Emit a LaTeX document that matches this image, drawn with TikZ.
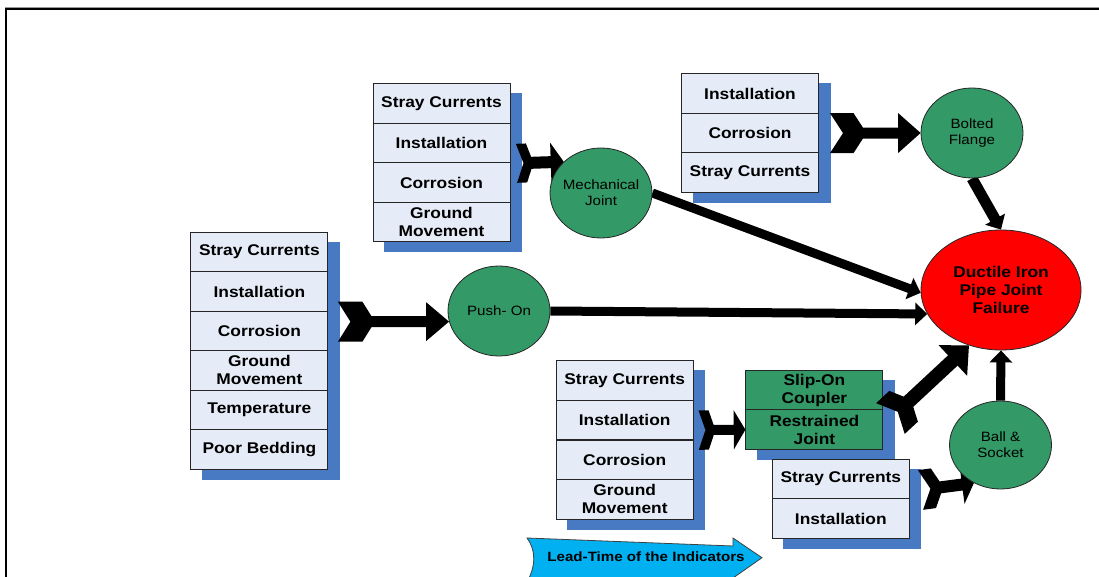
\documentclass[tikz,border=0pt]{standalone}
\usepackage{fontspec}
\setmainfont{Liberation Sans}[FakeStretch=1.12]
\usetikzlibrary{shapes.geometric,arrows.meta,calc}

\definecolor{cellfill}{RGB}{230,236,247}
\definecolor{shadeblue}{RGB}{72,122,196}
\definecolor{jointgreen}{RGB}{51,153,102}
\definecolor{leadcyan}{RGB}{0,176,240}

\pgfdeclarelayer{shadows}
\pgfdeclarelayer{arrows}
\pgfdeclarelayer{top}
\pgfsetlayers{shadows,main,arrows,top}

% Block arrow with a notched chevron tail, from #1 (tail) to #2 (tip).
% #3 tail half-height, #4 tail flat width, #5 notch depth,
% #6 shaft half-thickness, #7 head half-height, #8 head length
\newcommand\chevronarrow[8]{%
  \path let \p1=(#1), \p2=(#2) in
    \pgfextra{%
      \pgfmathsetmacro\chtmpa{atan2((\y2)-(\y1),(\x2)-(\x1))}\xdef\chang{\chtmpa}%
      \pgfmathsetmacro\chtmpb{veclen((\x2)-(\x1),(\y2)-(\y1))}\xdef\chlen{\chtmpb}};
  \fill[shift={(#1)}, rotate=\chang]
    (0,-#3) -- (#4,-#3) -- ({#4+#5},0) -- (#4,#3) -- (0,#3) -- (#5,0) -- cycle
    (#4,-#6) -- ({\chlen-#8},-#6) -- ({\chlen-#8},#6) -- (#4,#6) -- cycle
    ({\chlen-#8},-#7) -- (\chlen,0) -- ({\chlen-#8},#7) -- cycle;
}

% blue drop shadow behind a stack, given its first and last cell
\newcommand\stackshadow[2]{%
  \fill[shadow] ($(#1.north west)+(11.5,10)$) rectangle ($(#2.south east)+(11.5,10)$);
}

\tikzset{
  cell/.style={draw=black!85, line width=1pt, fill=cellfill, inner sep=0pt,
    align=center, minimum height=39.4pt,
    font=\fontsize{15.5}{18}\selectfont\bfseries},
  greencell/.style={cell, fill=jointgreen},
  shadow/.style={fill=shadeblue},
  joint/.style={ellipse, draw=black!85, line width=0.8pt, fill=jointgreen,
    inner sep=-10pt, minimum width=102pt, minimum height=90pt, align=center,
    font=\fontsize{13.5}{16}\selectfont},
  failure/.style={ellipse, draw=black!85, line width=0.8pt, fill=red,
    inner sep=0pt, minimum width=160pt, minimum height=120pt, align=center,
    font=\fontsize{15.5}{18}\selectfont\bfseries},
  feed/.style={line width=9pt, -{Triangle[length=12pt,width=22pt]}},
}

\begin{document}
\begin{tikzpicture}[x=1pt,y=-1pt]
\useasboundingbox (0,0) rectangle (1099,577);

% indicator stacks
\begin{scope}[every node/.style={cell, minimum width=137pt}]
  \node (b1a) at (441.5,103.7) {Stray Currents};
  \node (b1b) at (441.5,143.1) {Installation};
  \node (b1c) at (441.5,182.5) {Corrosion};
  \node (b1d) at (441.5,221.9) {Ground\\Movement};

  \node (b2a) at (750,93.7) {Installation};
  \node (b2b) at (750,133.1) {Corrosion};
  \node (b2c) at (750,172.5) {Stray Currents};

  \node (b3a) at (259.4,252.0) {Stray Currents};
  \node (b3b) at (259.4,291.5) {Installation};
  \node (b3c) at (259.4,330.9) {Corrosion};
  \node (b3d) at (259.4,370.4) {Ground\\Movement};
  \node (b3e) at (259.4,409.8) {Temperature};
  \node (b3f) at (259.4,449.3) {Poor Bedding};

  \node (b4a) at (624.7,380.5) {Stray Currents};
  \node (b4b) at (624.7,420.1) {Installation};
  \node (b4c) at (624.7,459.7) {Corrosion};
  \node (b4d) at (624.7,499.3) {Ground\\Movement};

  \node[greencell] (g1) at (814.4,390.35) {Slip-On\\Coupler};
  \node[greencell] (g2) at (814.4,429.65) {Restrained\\Joint};

  \node (b5a) at (840.8,479.05) {Stray Currents};
  \node (b5b) at (840.8,518.55) {Installation};
\end{scope}

\begin{pgfonlayer}{shadows}
  % page and frame
  \fill[white] (0,0) rectangle (1099,577);
  \draw[black!40, line width=1.2pt] (5,7.2) -- (1099,7.2);
  \draw[line width=2pt] (6,577) -- (6,9) -- (1099,9);
  % drop shadows behind the stacks
  \stackshadow{b1a}{b1d}
  \stackshadow{b2a}{b2c}
  \stackshadow{b3a}{b3f}
  \stackshadow{b4a}{b4d}
  \stackshadow{g1}{g2}
  \stackshadow{b5a}{b5b}
\end{pgfonlayer}

% joint types and the failure
\begin{pgfonlayer}{top}
  \node[joint] (mech) at (601,193) {Mechanical\\Joint};
  \node[joint] (bolted) at (972,133) {Bolted\\Flange};
  \node[joint] (push) at (499,311) {Push- On};
  \node[joint, minimum height=88pt] (ball) at (1000.5,445) {Ball \&\\Socket};
  \node[failure] (fail) at (1001,290) {Ductile Iron\\Pipe Joint\\Failure};
\end{pgfonlayer}

% connectors
\coordinate (t1) at ($(b1b.south east)+(6,0)$);
\coordinate (t2) at ($(b2b.east)+(11,0)$);
\coordinate (t3) at ($(b3b.south east)+(9.5,10)$);
\coordinate (t4) at ($(b4b.east)+(5,10)$);
\coordinate (t5) at ($(g1.south east)+(7,8)$);
\coordinate (t6) at ($(b5a.south east)+(10.7,-9.3)$);

\begin{pgfonlayer}{arrows}
  \chevronarrow{t1}{mech.140}{19.5}{10}{7}{6}{19.5}{13}
  \chevronarrow{t2}{bolted.west}{20}{23.5}{13}{5.5}{20}{22.5}
  \chevronarrow{t3}{push.192}{20}{24.5}{12.5}{5.5}{19.5}{23}
  \chevronarrow{t4}{g2.west}{19.7}{10}{6.7}{5}{19.7}{11.7}
  \chevronarrow{t5}{fail.240}{21}{18}{10}{7}{21}{22}
  \chevronarrow{t6}{ball.235}{20}{13}{10}{6}{19.5}{12}

  \draw[feed] (mech.east) -- (fail.182);
  \draw[feed] (push.east) -- (fail.198);
  \draw[feed, line width=11pt] (bolted.south) -- (fail.north);
  \draw[feed] (ball.north) -- (fail.south);
\end{pgfonlayer}

% lead-time arrow along the bottom
\begin{scope}
  \clip (0,0) rectangle (1099,577);
  \filldraw[fill=leadcyan, draw=black!75, line width=0.8pt]
    (527,538) -- (733,546) -- (733,538) -- (762,557.7) -- (733,578)
    -- (527,582) .. controls (536,566) and (536,550) .. (527,538) -- cycle;
\end{scope}
\node[font=\fontsize{13.5}{16}\selectfont\bfseries] (lead) at (646,557)
  {Lead-Time of the Indicators};

\end{tikzpicture}
\end{document}
